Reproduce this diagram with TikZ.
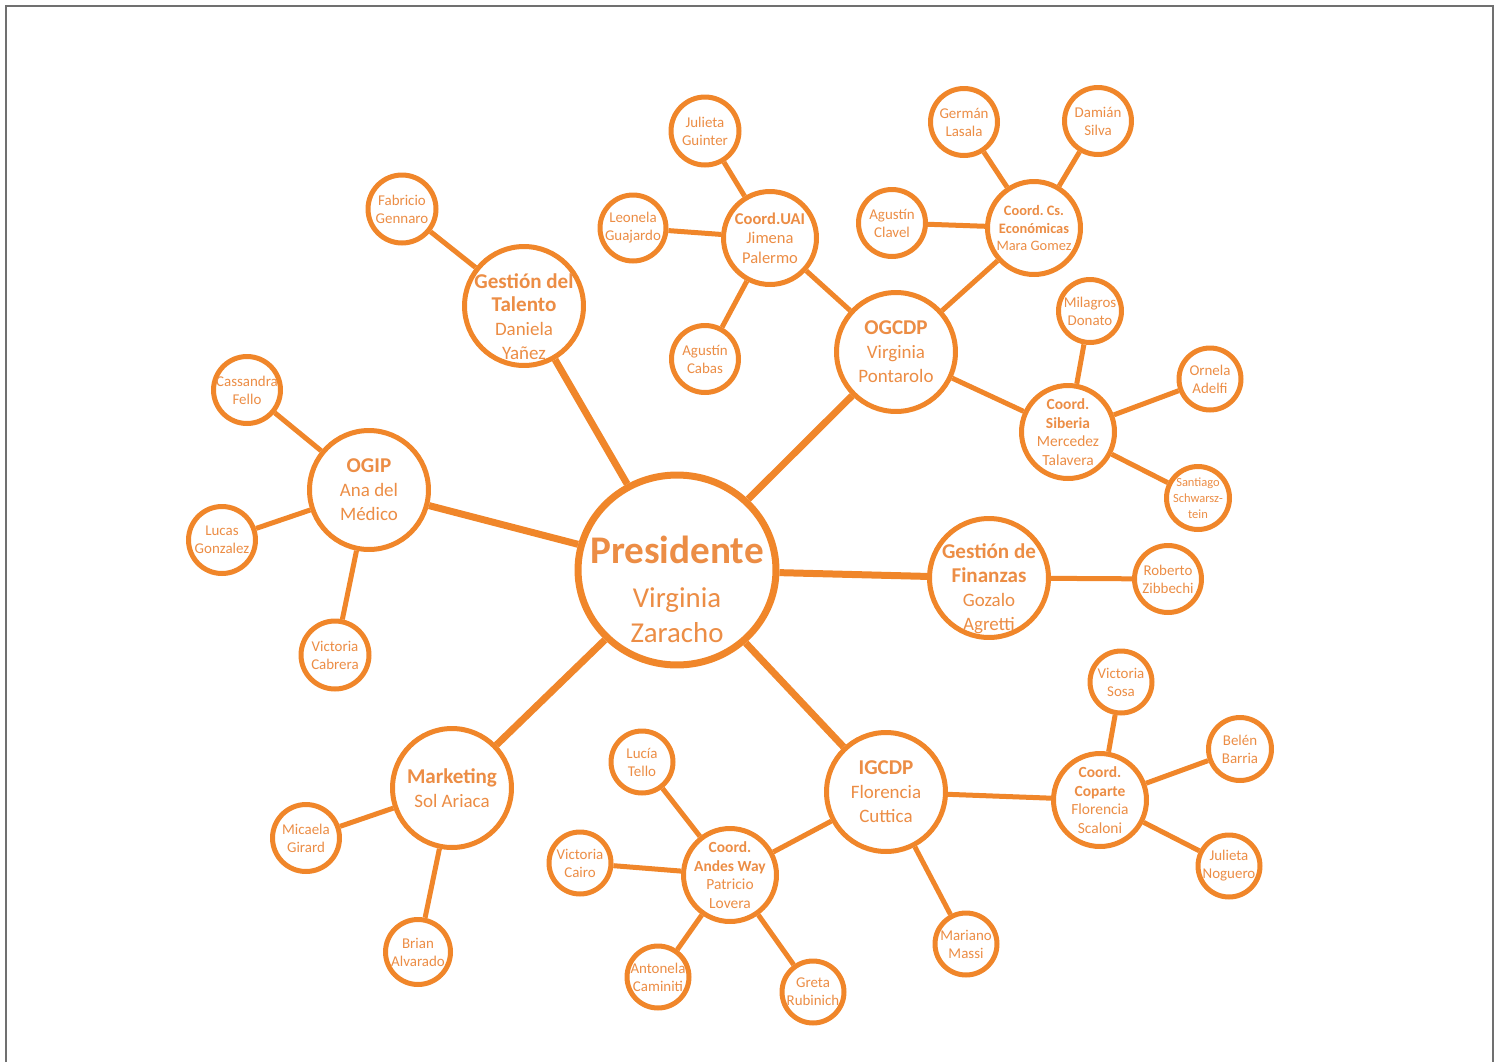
\documentclass[tikz,border=0pt]{standalone}
\usepackage{fontspec}
\setmainfont{Carlito}
\usetikzlibrary{shapes.geometric}
\definecolor{tangerine}{HTML}{F0862A}
\definecolor{apricot}{HTML}{EC8D45}
\definecolor{rim}{HTML}{707070}

%% bold first lines of the circles
\newcommand{\hd}[1]{{\bfseries #1}}
\newcommand{\hdl}[1]{{\fontsize{12}{13.6}\selectfont\bfseries #1}}
%% pushes a four-line text a little lower in its circle
\newcommand{\topgap}{\rule{0pt}{0.72cm}}

\begin{document}
\begin{tikzpicture}[
  x=0.02cm, y=-0.02cm,
  every node/.style={text=apricot, align=center},
  boss/.style={
    ellipse, draw=tangerine, fill=white, line width=0.14cm,
    minimum width=3.96cm, minimum height=3.8cm, inner sep=0pt
  },
  bosstext/.style={
    font=\fontsize{16.4}{19.8}\selectfont, text=apricot, align=center
  },
  unit/.style={
    circle, draw=tangerine, fill=white, line width=0.1cm,
    minimum size=2.38cm, inner sep=-3mm,
    font=\fontsize{10.8}{13.6}\selectfont
  },
  coord/.style={
    circle, draw=tangerine, fill=white, line width=0.1cm,
    minimum size=1.86cm, inner sep=-3mm,
    font=\fontsize{8.8}{10.5}\selectfont
  },
  member/.style={
    circle, draw=tangerine, fill=white, line width=0.1cm,
    minimum size=#1, inner sep=-3mm,
    font=\fontsize{8.5}{10.3}\selectfont
  },
  member/.default=1.3cm,
  trunk/.style={draw=tangerine, line width=0.14cm},
  branch/.style={draw=tangerine, line width=0.1cm}
]
\useasboundingbox (0,0) rectangle (1498,1062);

%% page rim (open at the bottom)
\draw[rim, line width=0.04cm] (6,1062) -- (6,6) -- (1493,6) -- (1493,1062);

%% === CENTRE ===
\node[boss, label={[bosstext, yshift=-0.39cm]center:{%
  {\fontsize{22.3}{24}\selectfont\bfseries Presidente}\\[5pt]
  Virginia\\ Zaracho}}] (pres) at (677,570) {};

%% === FIRST RING ===
\node[unit] (ogip)      at (369,490) {\hdl{OGIP}\\ Ana del\\ Médico};
\node[unit] (talento)   at (524,306)
  {\topgap\hdl{Gestión del}\\ \hdl{Talento}\\ Daniela\\ Yañez};
\node[unit] (ogcdp)     at (896,352) {\hdl{OGCDP}\\ Virginia\\ Pontarolo};
\node[unit] (finanzas)  at (989,578)
  {\topgap\hdl{Gestión de}\\ \hdl{Finanzas}\\ Gozalo\\ Agretti};
\node[unit] (igcdp)     at (886,792) {\hdl{IGCDP}\\ Florencia\\ Cuttica};
\node[unit] (marketing) at (452,788) {\hdl{Marketing}\\ Sol Ariaca};

%% === COORDINATORS ===
\node[coord, font=\fontsize{9.4}{11.2}\selectfont] (uai) at (770,238)
  {\hd{Coord.UAI}\\ Jimena\\ Palermo};
\node[coord, font=\fontsize{8.2}{10}\selectfont] (csec) at (1034,228)
  {\hd{Coord.\ Cs.}\\ \hd{Económicas}\\ Mara Gomez};
\node[coord] (siberia) at (1068,432) {\hd{Coord.}\\ \hd{Siberia}\\ Mercedez\\ Talavera};
\node[coord] (andes)   at (730,875)  {\hd{Coord.}\\ \hd{Andes Way}\\ Patricio\\ Lovera};
\node[coord] (coparte) at (1100,800) {\hd{Coord.}\\ \hd{Coparte}\\ Florencia\\ Scaloni};

%% === MEMBERS ===
% OGIP
\node[member=1.34cm] (cassandra) at (247,390) {Cassandra\\ Fello};
\node[member=1.34cm] (lucas)     at (222,540) {Lucas\\ Gonzalez};
\node[member=1.36cm] (cabrera)   at (335,655) {Victoria\\ Cabrera};
% Gestion del Talento
\node[member=1.36cm] (fabricio)  at (402,209) {Fabricio\\ Gennaro};
% Coord. UAI
\node[member=1.36cm] (guinter)   at (705,131) {Julieta\\ Guinter};
\node[member=1.32cm] (leonela)   at (633,228) {Leonela\\ Guajardo};
\node[member=1.34cm] (cabas)     at (705,359) {Agustín\\ Cabas};
% Coord. Cs. Economicas
\node[member=1.34cm] (german)    at (964,122) {Germán\\ Lasala};
\node[member=1.34cm] (damian)    at (1098,121) {Damián\\ Silva};
\node[member=1.34cm] (clavel)    at (892,223) {Agustín\\ Clavel};
% Coord. Siberia
\node[member=1.26cm] (milagros)  at (1090,311) {Milagros\\ Donato};
\node[member=1.24cm] (ornela)    at (1210,379) {Ornela\\ Adelfi};
\node[member=1.26cm, font=\fontsize{7.1}{9.2}\selectfont] (santiago) at (1198,498)
  {Santiago\\ Schwarsz-\\ tein};
% Gestion de Finanzas
\node[member=1.34cm] (roberto)   at (1168,579) {Roberto\\ Zibbechi};
% Coord. Coparte
\node[member=1.24cm] (sosa)      at (1121,682) {Victoria\\ Sosa};
\node[member=1.26cm] (belen)     at (1240,749) {Belén\\ Barria};
\node[member=1.24cm] (noguero)   at (1229,866) {Julieta\\ Noguero};
% IGCDP
\node[member=1.24cm] (mariano)   at (966,944) {Mariano\\ Massi};
% Coord. Andes Way
\node[member=1.24cm] (lucia)     at (642,762) {Lucía\\ Tello};
\node[member=1.24cm] (cairo)     at (580,863) {Victoria\\ Cairo};
\node[member=1.24cm] (antonela)  at (658,977) {Antonela\\ Caminiti};
\node[member=1.24cm] (greta)     at (813,992) {Greta\\ Rubinich};
% Marketing
\node[member=1.34cm] (micaela)   at (306,838) {Micaela\\ Girard};
\node[member=1.3cm]  (brian)     at (418,952) {Brian\\ Alvarado};

%% === SPOKES FROM THE CENTRE ===
\foreach \u in {ogip, talento, ogcdp, finanzas, igcdp, marketing}
  \draw[trunk] (pres) -- (\u);

%% === BRANCHES ===
\foreach \a/\b in {ogip/cassandra, ogip/lucas, ogip/cabrera,
                   talento/fabricio,
                   ogcdp/uai, ogcdp/csec, ogcdp/siberia,
                   uai/guinter, uai/leonela, uai/cabas,
                   csec/german, csec/damian, csec/clavel,
                   siberia/milagros, siberia/ornela, siberia/santiago,
                   finanzas/roberto,
                   igcdp/andes, igcdp/coparte, igcdp/mariano,
                   coparte/sosa, coparte/belen, coparte/noguero,
                   andes/lucia, andes/cairo, andes/antonela, andes/greta,
                   marketing/micaela, marketing/brian}
  \draw[branch] (\a) -- (\b);

\end{tikzpicture}
\end{document}
